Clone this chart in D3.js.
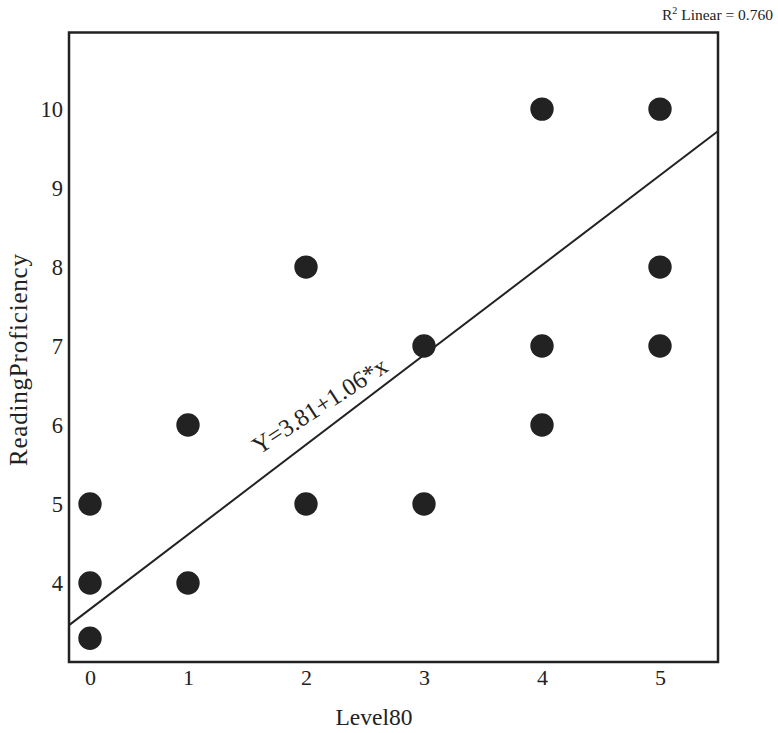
<!DOCTYPE html>
<html>
<head>
<meta charset="utf-8">
<script src="https://cdn.jsdelivr.net/npm/d3@7"></script>
<style>
  html, body { margin: 0; padding: 0; background: #fff; }
  svg text { font-family: "Liberation Serif", "DejaVu Serif", serif; fill: #222; }
</style>
</head>
<body>
<svg id="chart" width="778" height="733"></svg>
<script>
// ---- data ----
const level80 = [0, 0, 0, 1, 1, 2, 2, 3, 3, 4, 4, 4, 5, 5, 5];
const readingProficiency = [5, 4, 3.3, 6, 4, 8, 5, 7, 5, 10, 7, 6, 10, 8, 7];
const xTicks = [0, 1, 2, 3, 4, 5];
const yTicks = [4, 5, 6, 7, 8, 9, 10];
const fitLineX = [-0.21, 5.49];
const fitLineY = [3.47, 9.72];
const fitLabel = "Y=3.81+1.06*x";
const r2Label = "Linear = 0.760";
const xTitle = "Level80";
const yTitle = "ReadingProficiency";

// ---- layout ----
const svg = d3.select("#chart");
const frame = { left: 69, right: 718, top: 32.5, bottom: 662 };
const x = d3.scaleLinear().domain([0, 1, 5]).range([90, 188, 660]);
const y = d3.scaleLinear().domain([3, 10.97]).range([frame.bottom, frame.top]);
const ink = "#222";

// frame
svg.append("rect")
  .attr("x", frame.left).attr("y", frame.top)
  .attr("width", frame.right - frame.left).attr("height", frame.bottom - frame.top)
  .attr("fill", "none").attr("stroke", ink).attr("stroke-width", 2.5);

// axes (labels only, no tick marks)
const xAxis = d3.axisBottom(x).tickValues(xTicks).tickSize(0).tickPadding(0).tickFormat(d3.format("d"));
const gx = svg.append("g").attr("transform", `translate(0,${frame.bottom})`).call(xAxis);
gx.select(".domain").remove();
gx.selectAll("text").attr("dy", null).attr("y", 23).attr("font-size", 22)
  .attr("font-family", "Liberation Serif, serif").attr("fill", ink);

const yAxis = d3.axisLeft(y).tickValues(yTicks).tickSize(0).tickPadding(0).tickFormat(d3.format("d"));
const gy = svg.append("g").attr("transform", `translate(63,0)`).call(yAxis);
gy.select(".domain").remove();
gy.selectAll("text").attr("dy", "0.33em").attr("x", 0).attr("font-size", 22.5)
  .attr("font-family", "Liberation Serif, serif").attr("fill", ink);

// fit line
svg.append("line")
  .attr("x1", x(fitLineX[0])).attr("y1", y(fitLineY[0]))
  .attr("x2", x(fitLineX[1])).attr("y2", y(fitLineY[1]))
  .attr("stroke", ink).attr("stroke-width", 2);

// fit label
svg.append("text")
  .attr("transform", "translate(259,455) rotate(-33)")
  .attr("font-size", 24.5)
  .text(fitLabel);

// points
svg.append("g").selectAll("circle")
  .data(level80.map((d, i) => ({ x: d, y: readingProficiency[i] })))
  .join("circle")
  .attr("cx", d => x(d.x)).attr("cy", d => y(d.y))
  .attr("r", 11.7).attr("fill", ink);

// axis titles
svg.append("text")
  .attr("x", 374).attr("y", 725).attr("text-anchor", "middle")
  .attr("font-size", 23.5).text(xTitle);

svg.append("text")
  .attr("transform", "translate(27,360) rotate(-90)")
  .attr("text-anchor", "middle")
  .attr("font-size", 25)
  .attr("textLength", 212).attr("lengthAdjust", "spacing")
  .text(yTitle);

// R² label
const r2 = svg.append("text").attr("x", 773).attr("y", 20)
  .attr("text-anchor", "end").attr("font-size", 15.5);
r2.append("tspan").text("R");
r2.append("tspan").attr("font-size", 10).attr("dy", -6).text("2");
r2.append("tspan").attr("dy", 6).text(" " + r2Label);
</script>
</body>
</html>
